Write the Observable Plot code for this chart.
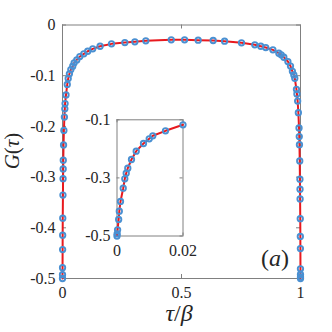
<!DOCTYPE html>
<html><head><meta charset="utf-8">
<script src="https://cdn.jsdelivr.net/npm/d3@7"></script>
<script src="https://cdn.jsdelivr.net/npm/@observablehq/plot@0.6"></script>
<style>
body{margin:0;background:#fff;}
#chart{position:relative;width:332px;height:332px;overflow:hidden;}
#chart svg{position:absolute;overflow:visible;}
#chart svg text{font-family:"Liberation Serif","Times New Roman","DejaVu Serif",serif;}
</style></head><body><div id="chart"></div>
<script>
const tau = [0, 0.00005, 0.00018, 0.0005, 0.0007, 0.00106, 0.00188, 0.00236, 0.00279, 0.00327,
  0.00439, 0.00582, 0.00803, 0.00976, 0.01085, 0.0147, 0.0200,
  0.024, 0.029, 0.035, 0.043, 0.049, 0.060, 0.0727, 0.0895, 0.106, 0.127, 0.158, 0.206, 0.262,
  0.304, 0.350, 0.457, 0.513, 0.570, 0.633, 0.681, 0.752, 0.808, 0.833, 0.854, 0.884, 0.909,
  0.919, 0.930, 0.947, 0.958, 0.966, 0.972, 0.976, 0.983, 0.985, 0.988, 0.991,
  0.9938, 0.9948, 0.9956, 0.9968, 0.9976, 0.9980, 0.9983, 0.9990, 0.99935, 0.9996, 0.99982,
  0.99992, 0.99997, 1.0];
const G = [-0.500, -0.4925, -0.4787, -0.443, -0.4146, -0.381, -0.3355, -0.3031, -0.2838, -0.2666,
  -0.2367, -0.2080, -0.1816, -0.1654, -0.1550, -0.1379, -0.1172,
  -0.1057, -0.0964, -0.0879, -0.0814, -0.0747, -0.0688, -0.0623, -0.0569, -0.0518, -0.0470, -0.0419, -0.0372, -0.0346,
  -0.0332, -0.0312, -0.0292, -0.0292, -0.0300, -0.0306, -0.0320, -0.0352, -0.0391, -0.0419, -0.0445, -0.0490, -0.0557,
  -0.0589, -0.0636, -0.0721, -0.0810, -0.0913, -0.0984, -0.1051, -0.1269, -0.1360, -0.1500, -0.1730,
  -0.203, -0.220, -0.236, -0.268, -0.304, -0.324, -0.343, -0.382, -0.417, -0.441, -0.481,
  -0.492, -0.497, -0.500];
const mainXTicks = [0, 0.5, 1];
const mainYTicks = [0, -0.1, -0.2, -0.3, -0.4, -0.5];
const insetXTicks = [0, 0.02];
const insetYTicks = [-0.1, -0.3, -0.5];

const data = tau.map((t, i) => ({tau: t, G: G[i]}));
const insetData = data.filter(d => d.tau <= 0.02);

const font = "'Liberation Serif', 'Times New Roman', 'DejaVu Serif', serif";
const lineColor = "#e8191e";
const dotColor = "#4a90d2";
const frameColor = "#808080";
const textColor = "#262626";
const fmt = d => d === 0 ? "0" : String(d);

function tickMarks(xt, yt, fw, fh, len) {
  return [
    Plot.tickX(xt, {x: d => d, stroke: frameColor, insetTop: fh - len}),
    Plot.tickX(xt, {x: d => d, stroke: frameColor, insetBottom: fh - len}),
    Plot.tickY(yt, {y: d => d, stroke: frameColor, insetRight: fw - len}),
    Plot.tickY(yt, {y: d => d, stroke: frameColor, insetLeft: fw - len})
  ];
}

// main
const W = 332, H = 332, mL = 62, mR = 32, mT = 24.5, mB = 54;
const main = Plot.plot({
  width: W, height: H, marginLeft: mL, marginRight: mR, marginTop: mT, marginBottom: mB,
  style: {fontFamily: font, background: "transparent", color: textColor},
  x: {domain: [0, 1]},
  y: {domain: [-0.5, 0]},
  marks: [
    Plot.frame({stroke: frameColor}),
    ...tickMarks(mainXTicks, mainYTicks, W - mL - mR, H - mT - mB, 4),
    Plot.axisX(mainXTicks, {tickSize: 0, tickPadding: 8, tickFormat: fmt, fontSize: 16, label: null}),
    Plot.axisY(mainYTicks, {tickSize: 0, tickPadding: 7, tickFormat: fmt, fontSize: 16, label: null}),
    Plot.line(data, {x: "tau", y: "G", stroke: lineColor, strokeWidth: 2}),
    Plot.dot(data, {x: "tau", y: "G", r: 2.7, stroke: dotColor, strokeWidth: 1.9})
  ]
});
main.style.left = "0px"; main.style.top = "0px";

const svg = d3.select(main);
function mathText(x, y, size, parts, rotate) {
  const t = svg.append("text")
    .attr("transform", `translate(${x},${y})` + (rotate ? ` rotate(${rotate})` : ""))
    .attr("text-anchor", "middle")
    .attr("fill", textColor)
    .style("font-family", font)
    .style("font-size", size + "px");
  parts.forEach(([s, it]) => t.append("tspan").attr("font-style", it ? "italic" : "normal").text(s));
}
mathText(19, 151, 21, [["G", 1], ["(", 0], ["τ", 1], [")", 0]], -90);
mathText(179, 321, 24, [["τ", 1], ["/", 0], ["β", 1]]);
mathText(275, 266, 24, [["(", 0], ["a", 1], [")", 0]]);

// inset
const iW = 127, iH = 157, iL = 40.5, iR = 20.5, iT = 14.3, iB = 26.5;
const inset = Plot.plot({
  width: iW, height: iH, marginLeft: iL, marginRight: iR, marginTop: iT, marginBottom: iB,
  style: {fontFamily: font, background: "transparent", color: textColor},
  x: {domain: [0, 0.02]},
  y: {domain: [-0.5, -0.1]},
  marks: [
    Plot.frame({stroke: frameColor, fill: "white"}),
    ...tickMarks(insetXTicks, insetYTicks, iW - iL - iR, iH - iT - iB, 3),
    Plot.axisX(insetXTicks, {tickSize: 0, tickPadding: 9, tickFormat: fmt, fontSize: 16, label: null}),
    Plot.axisY(insetYTicks, {tickSize: 0, tickPadding: 6.5, tickFormat: fmt, fontSize: 16, label: null}),
    Plot.line(insetData, {x: "tau", y: "G", stroke: lineColor, strokeWidth: 2}),
    Plot.dot(insetData, {x: "tau", y: "G", r: 2.7, stroke: dotColor, strokeWidth: 1.9})
  ]
});
inset.style.left = "76px"; inset.style.top = "105px";

const chart = document.getElementById("chart");
chart.appendChild(main);
chart.appendChild(inset);
</script>
</body></html>
